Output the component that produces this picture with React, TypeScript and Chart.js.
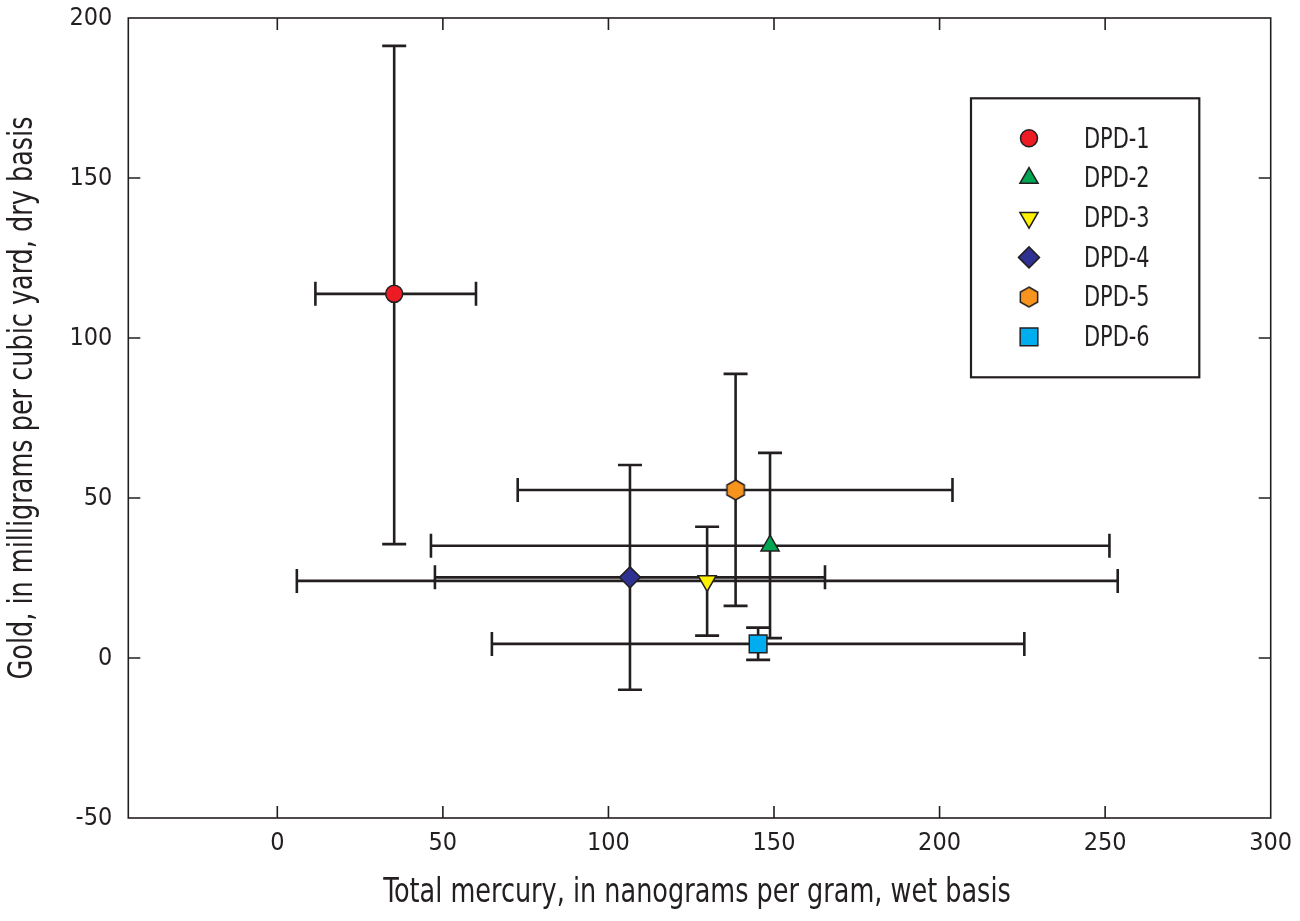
import React, { useEffect, useRef } from 'react';
import { Chart, registerables } from 'chart.js';
import { drawPoint } from 'chart.js/helpers';

Chart.register(...registerables);

// ---- Data ----
const sites = ['DPD-1', 'DPD-2', 'DPD-3', 'DPD-4', 'DPD-5', 'DPD-6'];
const mercury = [35.3, 148.8, 129.8, 106.5, 138.4, 145.2];
const mercuryLow = [11.5, 46.4, 5.9, 47.6, 72.6, 64.8];
const mercuryHigh = [60.0, 251.3, 253.8, 165.4, 203.9, 225.6];
const gold = [113.8, 35.1, 24.1, 25.2, 52.5, 4.4];
const goldLow = [35.6, 6.2, 7.0, -9.9, 16.3, -0.6];
const goldHigh = [191.3, 64.1, 41.0, 60.3, 88.8, 9.5];
const xTicks = [0, 50, 100, 150, 200, 250, 300];
const yTicks = [-50, 0, 50, 100, 150, 200];
const xTitle = 'Total mercury, in nanograms per gram, wet basis';
const yTitle = 'Gold, in milligrams per cubic yard, dry basis';

// ---- Styles ----
const colors = ['#ed1c24', '#00a651', '#fff200', '#2e3192', '#f7941d', '#00aeef'];
const shapes = ['circle', 'triangleUp', 'triangleDown', 'diamond', 'hexagon', 'square'];
const INK = '#231f20';
const FONT = '"Liberation Sans Narrow", "Arial Narrow", "DejaVu Sans Condensed", "Liberation Sans", sans-serif';

function makeHexagon(fill: string): HTMLCanvasElement {
  const c = document.createElement('canvas');
  c.width = 24;
  c.height = 24;
  const ctx = c.getContext('2d')!;
  const R = 10;
  ctx.beginPath();
  for (let k = 0; k < 6; k++) {
    const a = (Math.PI / 3) * k;
    const px = 12 + R * Math.sin(a);
    const py = 12 - R * Math.cos(a);
    if (k === 0) ctx.moveTo(px, py);
    else ctx.lineTo(px, py);
  }
  ctx.closePath();
  ctx.fillStyle = fill;
  ctx.fill();
  ctx.lineWidth = 1.5;
  ctx.strokeStyle = INK;
  ctx.stroke();
  return c;
}

function markerStyle(shape: string, fill: string) {
  switch (shape) {
    case 'circle':
      return { pointStyle: 'circle' as any, radius: 8.5, rotation: 0 };
    case 'triangleUp':
      return { pointStyle: 'triangle' as any, radius: 10.5, rotation: 0 };
    case 'triangleDown':
      return { pointStyle: 'triangle' as any, radius: 10.5, rotation: 180 };
    case 'diamond':
      return { pointStyle: 'rectRot' as any, radius: 10.5, rotation: 0 };
    case 'square':
      return { pointStyle: 'rect' as any, radius: 12.5, rotation: 0 };
    case 'hexagon':
    default:
      return { pointStyle: makeHexagon(fill) as any, radius: 10, rotation: 0 };
  }
}

// condensed-looking text: draw with a horizontal squeeze
function narrowText(
  ctx: CanvasRenderingContext2D,
  text: string,
  x: number,
  y: number,
  size: number,
  squeeze: number,
  align: CanvasTextAlign,
  rotate = 0
) {
  ctx.save();
  ctx.translate(x, y);
  if (rotate) ctx.rotate(rotate);
  ctx.scale(squeeze, 1);
  ctx.font = `${size}px ${FONT}`;
  ctx.textAlign = align;
  ctx.textBaseline = 'middle';
  ctx.fillStyle = INK;
  ctx.fillText(text, 0, 0);
  ctx.restore();
}

const framePlugin = {
  id: 'frameAndBars',
  beforeDatasetsDraw(chart: any) {
    const { ctx, scales } = chart;
    const xs = scales.x;
    const ys = scales.y;
    ctx.save();
    ctx.strokeStyle = INK;
    ctx.lineWidth = 2.6;
    ctx.lineCap = 'butt';
    const cap = 12;
    for (let i = 0; i < sites.length; i++) {
      const cx = xs.getPixelForValue(mercury[i]);
      const cy = ys.getPixelForValue(gold[i]);
      const xl = xs.getPixelForValue(mercuryLow[i]);
      const xh = xs.getPixelForValue(mercuryHigh[i]);
      const yl = ys.getPixelForValue(goldLow[i]);
      const yh = ys.getPixelForValue(goldHigh[i]);
      ctx.beginPath();
      ctx.moveTo(xl, cy); ctx.lineTo(xh, cy);
      ctx.moveTo(xl, cy - cap); ctx.lineTo(xl, cy + cap);
      ctx.moveTo(xh, cy - cap); ctx.lineTo(xh, cy + cap);
      ctx.moveTo(cx, yl); ctx.lineTo(cx, yh);
      ctx.moveTo(cx - cap, yl); ctx.lineTo(cx + cap, yl);
      ctx.moveTo(cx - cap, yh); ctx.lineTo(cx + cap, yh);
      ctx.stroke();
    }
    ctx.restore();
  },
  afterDraw(chart: any) {
    const { ctx, chartArea: a, scales } = chart;
    const xs = scales.x;
    const ys = scales.y;
    ctx.save();
    ctx.strokeStyle = INK;
    ctx.lineWidth = 1.6;
    ctx.strokeRect(a.left, a.top, a.right - a.left, a.bottom - a.top);
    const tl = 12;
    ctx.beginPath();
    xTicks.forEach((v) => {
      const px = xs.getPixelForValue(v);
      if (px <= a.left + 1 || px >= a.right - 1) return;
      ctx.moveTo(px, a.bottom); ctx.lineTo(px, a.bottom - tl);
      ctx.moveTo(px, a.top); ctx.lineTo(px, a.top + tl);
    });
    yTicks.forEach((v) => {
      const py = ys.getPixelForValue(v);
      if (py <= a.top + 1 || py >= a.bottom - 1) return;
      ctx.moveTo(a.left, py); ctx.lineTo(a.left + tl, py);
      ctx.moveTo(a.right, py); ctx.lineTo(a.right - tl, py);
    });
    ctx.stroke();

    // axis titles
    narrowText(ctx, xTitle, 697, 893, 33, 0.86, 'center');
    narrowText(ctx, yTitle, 23, 398, 33, 0.86, 'center', -Math.PI / 2);

    // legend box
    const bx = a.left + 842.7;
    const by = a.top + 80.3;
    const bw = 228.3;
    const bh = 279;
    ctx.fillStyle = '#ffffff';
    ctx.fillRect(bx, by, bw, bh);
    ctx.lineWidth = 2.2;
    ctx.strokeStyle = INK;
    ctx.strokeRect(bx, by, bw, bh);
    const mx = bx + 58;
    const tx = bx + 113;
    const rowY0 = by + 40;
    const rowStep = 39.7;
    chart.data.datasets.forEach((ds: any, i: number) => {
      const y = rowY0 + rowStep * i;
      ctx.save();
      ctx.fillStyle = ds.backgroundColor;
      ctx.strokeStyle = INK;
      ctx.lineWidth = 1.5;
      drawPoint(ctx, {
        pointStyle: ds.pointStyle,
        radius: ds.pointRadius,
        rotation: ds.pointRotation,
        borderWidth: 1.5,
      } as any, mx, y);
      ctx.restore();
      narrowText(ctx, ds.label, tx, y + 2, 28, 0.83, 'left');
    });
    ctx.restore();
  },
};

export default function App() {
  const ref = useRef<HTMLCanvasElement | null>(null);
  useEffect(() => {
    if (!ref.current) return;
    const datasets = sites.map((s, i) => {
      const m = markerStyle(shapes[i], colors[i]);
      return {
        label: s,
        data: [{ x: mercury[i], y: gold[i] }],
        backgroundColor: colors[i],
        borderColor: INK,
        borderWidth: 1.5,
        pointStyle: m.pointStyle,
        pointRadius: m.radius,
        pointHoverRadius: m.radius,
        pointRotation: m.rotation,
      };
    });
    const chart = new Chart(ref.current, {
      type: 'scatter',
      data: { datasets },
      options: {
        responsive: false,
        animation: false,
        events: [],
        layout: { padding: { top: 18, right: 29.3, left: 0, bottom: 0 } },
        plugins: {
          legend: { display: false },
          tooltip: { enabled: false },
          title: { display: false },
        },
        scales: {
          x: {
            type: 'linear',
            min: -45,
            max: 300,
            afterBuildTicks: (s: any) => {
              s.ticks = xTicks.map((v) => ({ value: v }));
            },
            afterFit: (s: any) => {
              s.height = 103;
              s.paddingLeft = 0;
              s.paddingRight = 0;
            },
            grid: { display: false, drawTicks: false },
            border: { display: false },
            ticks: {
              padding: 10,
              color: INK,
              font: { family: FONT, size: 25 },
              maxRotation: 0,
              autoSkip: false,
              callback: (v: any) => String(v),
            },
          },
          y: {
            type: 'linear',
            min: -50,
            max: 200,
            afterBuildTicks: (s: any) => {
              s.ticks = yTicks.map((v) => ({ value: v }));
            },
            afterFit: (s: any) => {
              s.width = 128.3;
              s.paddingTop = 0;
              s.paddingBottom = 0;
            },
            grid: { display: false, drawTicks: false },
            border: { display: false },
            ticks: {
              padding: 16,
              color: INK,
              font: { family: FONT, size: 25 },
              autoSkip: false,
              callback: (v: any) => String(v),
            },
          },
        },
      },
      plugins: [framePlugin],
    } as any);
    return () => chart.destroy();
  }, []);
  return (
    <div style={{ position: 'absolute', left: 0, top: 0, width: 1300, height: 921, background: '#fff' }}>
      <canvas ref={ref} width={1300} height={921} />
    </div>
  );
}
